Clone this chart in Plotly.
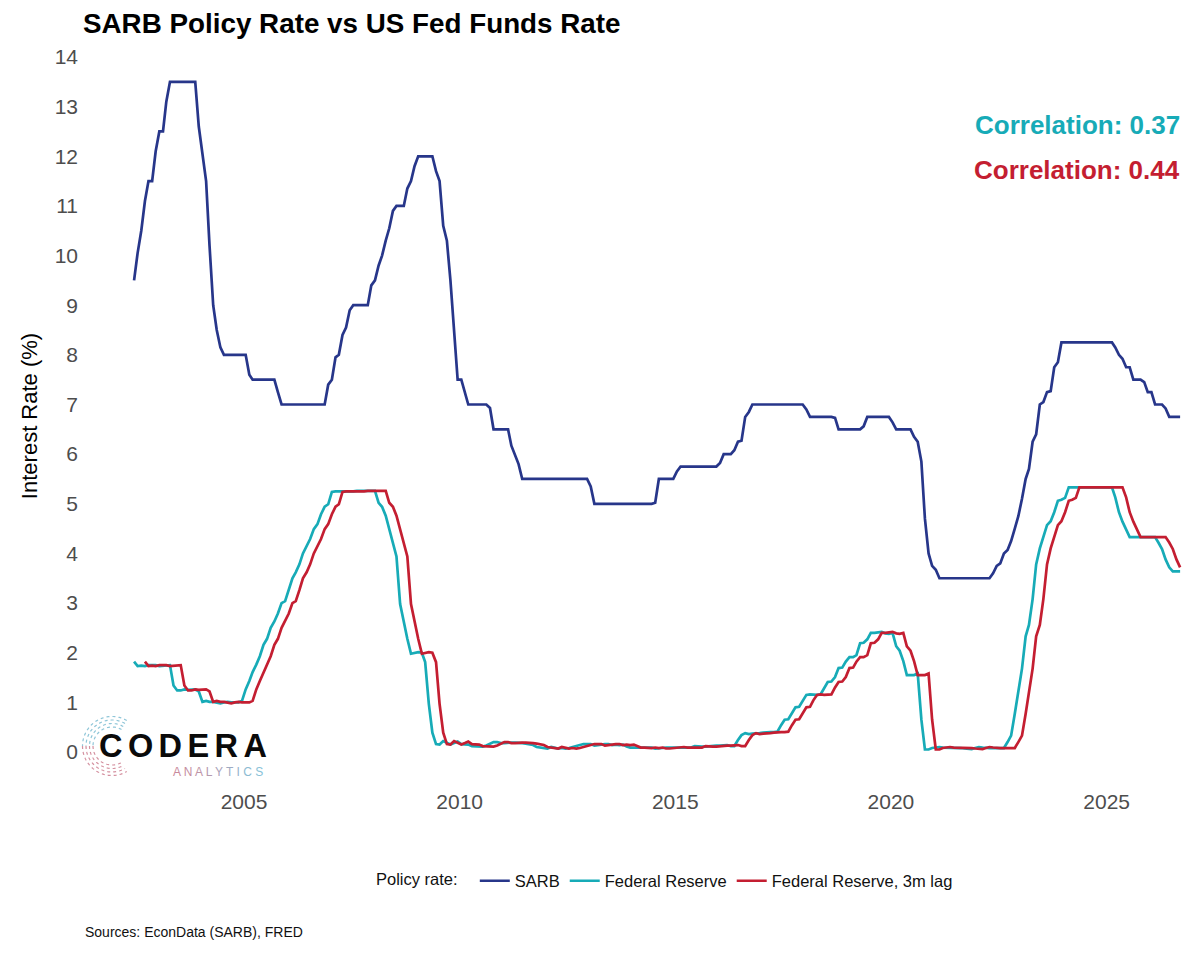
import numpy as np
import pandas as pd
import plotly.graph_objects as go

# ---------------- data (monthly, chart calendar) ----------------
n_months = 292
months = pd.date_range("2002-06-15", periods=n_months, freq=pd.DateOffset(months=1)).strftime("%Y-%m-%d").tolist()

sarb = [
    9.5,
    10.05, 10.5, 11.1, 11.5, 11.5, 12.1, 12.5, 12.5, 13.1, 13.5, 13.5, 13.5,
    13.5, 13.5, 13.5, 13.5, 13.5, 12.6, 12.0, 11.5, 10.2, 9.0, 8.5, 8.15,
    8.0, 8.0, 8.0, 8.0, 8.0, 8.0, 8.0, 7.6, 7.5, 7.5, 7.5, 7.5,
    7.5, 7.5, 7.5, 7.25, 7.0, 7.0, 7.0, 7.0, 7.0, 7.0, 7.0, 7.0,
    7.0, 7.0, 7.0, 7.0, 7.0, 7.4, 7.5, 7.95, 8.0, 8.4, 8.55, 8.9,
    9.0, 9.0, 9.0, 9.0, 9.0, 9.4, 9.5, 9.8, 10.0, 10.3, 10.55, 10.9,
    11.0, 11.0, 11.0, 11.35, 11.5, 11.8, 12.0, 12.0, 12.0, 12.0, 12.0, 11.7,
    11.5, 10.6, 10.3, 9.5, 8.5, 7.5, 7.5, 7.25, 7.0, 7.0, 7.0, 7.0,
    7.0, 7.0, 6.93, 6.5, 6.5, 6.5, 6.5, 6.5, 6.17, 6.0, 5.8, 5.5,
    5.5, 5.5, 5.5, 5.5, 5.5, 5.5, 5.5, 5.5, 5.5, 5.5, 5.5, 5.5,
    5.5, 5.5, 5.5, 5.5, 5.5, 5.5, 5.35, 5.0, 5.0, 5.0, 5.0, 5.0,
    5.0, 5.0, 5.0, 5.0, 5.0, 5.0, 5.0, 5.0, 5.0, 5.0, 5.0, 5.0,
    5.02, 5.5, 5.5, 5.5, 5.5, 5.5, 5.65, 5.75, 5.75, 5.75, 5.75, 5.75,
    5.75, 5.75, 5.75, 5.75, 5.75, 5.75, 5.82, 6.0, 6.0, 6.0, 6.08, 6.25,
    6.27, 6.75, 6.85, 7.0, 7.0, 7.0, 7.0, 7.0, 7.0, 7.0, 7.0, 7.0,
    7.0, 7.0, 7.0, 7.0, 7.0, 7.0, 6.9, 6.75, 6.75, 6.75, 6.75, 6.75,
    6.75, 6.75, 6.73, 6.5, 6.5, 6.5, 6.5, 6.5, 6.5, 6.5, 6.56, 6.75,
    6.75, 6.75, 6.75, 6.75, 6.75, 6.75, 6.64, 6.5, 6.5, 6.5, 6.5, 6.5,
    6.35, 6.25, 5.85, 4.7, 4.0, 3.75, 3.67, 3.5, 3.5, 3.5, 3.5, 3.5,
    3.5, 3.5, 3.5, 3.5, 3.5, 3.5, 3.5, 3.5, 3.5, 3.5, 3.6, 3.75,
    3.8, 4.0, 4.07, 4.25, 4.5, 4.75, 5.1, 5.5, 5.7, 6.25, 6.4, 7.0,
    7.05, 7.25, 7.27, 7.75, 7.85, 8.25, 8.25, 8.25, 8.25, 8.25, 8.25, 8.25,
    8.25, 8.25, 8.25, 8.25, 8.25, 8.25, 8.25, 8.25, 8.15, 8.0, 7.92, 7.75,
    7.75, 7.5, 7.5, 7.5, 7.45, 7.25, 7.25, 7.0, 7.0, 7.0, 6.92, 6.75,
    6.75, 6.75, 6.75,
]

fed = [
    1.82,
    1.73, 1.74, 1.73, 1.75, 1.75, 1.75, 1.73, 1.74, 1.75, 1.75, 1.34, 1.24,
    1.24, 1.26, 1.25, 1.26, 1.26, 1.22, 1.01, 1.03, 1.01, 1.01, 1.00, 0.98,
    1.00, 1.01, 1.00, 1.00, 1.00, 1.03, 1.26, 1.43, 1.61, 1.76, 1.93, 2.16,
    2.28, 2.50, 2.63, 2.79, 3.00, 3.04, 3.26, 3.50, 3.62, 3.78, 4.00, 4.16,
    4.29, 4.49, 4.59, 4.79, 4.94, 4.99, 5.24, 5.25, 5.25, 5.25, 5.25, 5.24,
    5.25, 5.26, 5.26, 5.25, 5.25, 5.25, 5.26, 5.02, 4.94, 4.76, 4.49, 4.24,
    3.94, 2.98, 2.61, 2.28, 1.98, 2.00, 2.01, 2.00, 1.81, 0.97, 0.39, 0.16,
    0.15, 0.22, 0.18, 0.15, 0.18, 0.21, 0.16, 0.16, 0.15, 0.12, 0.12, 0.12,
    0.11, 0.13, 0.16, 0.20, 0.20, 0.18, 0.18, 0.19, 0.19, 0.19, 0.19, 0.18,
    0.17, 0.16, 0.14, 0.10, 0.09, 0.09, 0.07, 0.10, 0.08, 0.07, 0.08, 0.07,
    0.08, 0.10, 0.13, 0.14, 0.16, 0.16, 0.16, 0.13, 0.14, 0.16, 0.16, 0.16,
    0.14, 0.15, 0.14, 0.15, 0.11, 0.09, 0.09, 0.08, 0.08, 0.09, 0.08, 0.09,
    0.07, 0.07, 0.08, 0.09, 0.09, 0.10, 0.09, 0.09, 0.09, 0.09, 0.09, 0.12,
    0.11, 0.11, 0.11, 0.12, 0.12, 0.13, 0.13, 0.14, 0.14, 0.12, 0.12, 0.24,
    0.34, 0.38, 0.36, 0.37, 0.37, 0.38, 0.39, 0.40, 0.40, 0.40, 0.41, 0.54,
    0.65, 0.66, 0.79, 0.90, 0.91, 1.04, 1.15, 1.16, 1.15, 1.15, 1.16, 1.30,
    1.41, 1.42, 1.51, 1.69, 1.70, 1.82, 1.91, 1.91, 1.95, 2.19, 2.20, 2.27,
    2.40, 2.40, 2.41, 2.42, 2.39, 2.38, 2.40, 2.13, 2.04, 1.83, 1.55, 1.55,
    1.55, 1.58, 0.65, 0.05, 0.05, 0.08, 0.09, 0.10, 0.09, 0.09, 0.09, 0.09,
    0.09, 0.08, 0.07, 0.07, 0.06, 0.08, 0.10, 0.09, 0.08, 0.08, 0.08, 0.08,
    0.08, 0.08, 0.20, 0.33, 0.77, 1.21, 1.68, 2.33, 2.56, 3.08, 3.78, 4.10,
    4.33, 4.57, 4.65, 4.83, 5.06, 5.08, 5.12, 5.33, 5.33, 5.33, 5.33, 5.33,
    5.33, 5.33, 5.33, 5.33, 5.33, 5.33, 5.33, 5.33, 5.13, 4.83, 4.64, 4.48,
    4.33, 4.33, 4.33, 4.33, 4.33, 4.33, 4.33, 4.33, 4.22, 4.09, 3.88, 3.72,
    3.64, 3.64, 3.64,
]

lag_months = 3
fed_lag = pd.Series(fed).shift(lag_months).tolist()
fed_lag = [None if pd.isna(v) else v for v in fed_lag]

series_names = ["SARB", "Federal Reserve", "Federal Reserve, 3m lag"]
series_colors = ["#27368A", "#17ABB7", "#C41E31"]
corr_labels = ["Correlation: 0.37", "Correlation: 0.44"]
x_tick_years = [2005, 2010, 2015, 2020, 2025]
y_ticks = list(range(0, 15))

title_text = "SARB Policy Rate vs US Fed Funds Rate"
source_text = "Sources: EconData (SARB), FRED"

# ---------------- figure ----------------
W, H = 1199, 961
ML, MR, MT, MB = 77, 0, 49, 178
PW, PH = W - ML - MR, H - MT - MB

FONT = "Liberation Sans, Arial, Helvetica, sans-serif"

fig = go.Figure()
for name, vals, col in zip(series_names, [sarb, fed, fed_lag], series_colors):
    fig.add_trace(go.Scatter(
        x=months, y=vals, mode="lines", name=name,
        line=dict(color=col, width=2.7), connectgaps=False,
    ))

def px_x(p):
    return (p - ML) / PW

def px_y(p):
    return (H - MB - p) / PH

# correlation labels
for txt, col, ypx in zip(corr_labels, series_colors[1:], [125, 170]):
    fig.add_annotation(
        xref="paper", yref="paper", x=px_x(1182), y=px_y(ypx),
        xanchor="right", yanchor="middle", showarrow=False,
        text=f"<b>{txt}</b>", font=dict(family=FONT, size=26, color=col),
    )

# source note
fig.add_annotation(
    xref="paper", yref="paper", x=px_x(83), y=px_y(932),
    xanchor="left", yanchor="middle", showarrow=False,
    text=source_text, font=dict(family=FONT, size=14, color="#111111"),
)

# logo (text + decorative ring)
fig.add_annotation(
    xref="paper", yref="paper", x=px_x(97), y=px_y(766),
    xanchor="left", yanchor="bottom", showarrow=False,
    text="<b>C\u2006O\u2006D\u2006E\u2006R\u2006A</b>",
    font=dict(family="Liberation Sans, Arial, sans-serif", size=32.5, color="#0A0A0A"),
)
analytics_cols = ["#C98A9B", "#C58E9F", "#BE94A6", "#B59AAE", "#AAA2B8", "#9EAAC2", "#93B3CB", "#8CBBD2", "#88C2D8"]
analytics = " ".join(f"<span style='color:{c}'>{ch}</span>" for ch, c in zip("ANALYTICS", analytics_cols))
fig.add_annotation(
    xref="paper", yref="paper", x=px_x(171), y=px_y(772),
    xanchor="left", yanchor="middle", showarrow=False,
    text=analytics, font=dict(family="Liberation Sans, Arial, sans-serif", size=12, color="#B9A0B0"),
)
cx, cy = 112, 746
for r in [19, 22.5, 26, 29.5]:
    for a0, a1, col in [(60, 180, "#8FC6D8"), (180, 300, "#D4909F")]:
        th = np.radians(np.linspace(a0, a1, 40))
        xs = [px_x(cx + r * np.cos(t)) for t in th]
        ys = [px_y(cy - r * np.sin(t)) for t in th]
        path = "M " + " L ".join(f"{a:.5f},{b:.5f}" for a, b in zip(xs, ys))
        fig.add_shape(type="path", xref="paper", yref="paper", path=path,
                      line=dict(color=col, width=1.2, dash="dot"), layer="below")

# axis ranges from pixel geometry
y_per_px = 1 / 49.64
y_lo = -(H - MB - 752) * y_per_px
y_hi = 14 + (57 - MT) * y_per_px

def year_to_date(yf):
    y = int(np.floor(yf))
    start = pd.Timestamp(f"{y}-01-01")
    end = pd.Timestamp(f"{y + 1}-01-01")
    return (start + (end - start) * (yf - y)).strftime("%Y-%m-%d %H:%M:%S")

px_per_year = 43.13
x_lo = 2005 - (244 - ML) / px_per_year
x_hi = 2005 + (W - MR - 244) / px_per_year

fig.update_layout(
    width=W, height=H,
    margin=dict(l=ML, r=MR, t=MT, b=MB, autoexpand=False),
    paper_bgcolor="white", plot_bgcolor="white",
    font=dict(family=FONT, color="#111111"),
    title=dict(
        text=f"<b>{title_text}</b>", xref="container", yref="container",
        x=83 / W, y=1 - 23 / H, xanchor="left", yanchor="middle",
        font=dict(family=FONT, size=27.8, color="#000000"),
    ),
    xaxis=dict(
        type="date", range=[year_to_date(x_lo), year_to_date(x_hi)],
        showgrid=False, zeroline=False, showline=False, ticks="",
        tickvals=[f"{y}-01-01" for y in x_tick_years],
        ticktext=[str(y) for y in x_tick_years],
        tickfont=dict(family=FONT, size=21, color="#4D4D4D"),
        ticklabelstandoff=4,
    ),
    yaxis=dict(
        range=[y_lo, y_hi], showgrid=False, zeroline=False, showline=False, ticks="",
        tickvals=y_ticks, ticktext=[str(v) for v in y_ticks],
        tickfont=dict(family=FONT, size=21, color="#4D4D4D"),
        ticklabelstandoff=-2,
        title=dict(text="Interest Rate (%)", font=dict(family=FONT, size=22, color="#000000"), standoff=10),
    ),
    legend=dict(
        orientation="h", xref="paper", yref="paper",
        x=px_x(666), y=px_y(881), xanchor="center", yanchor="middle",
        title=dict(text="Policy rate:  ", font=dict(family=FONT, size=16.5, color="#111111")),
        font=dict(family=FONT, size=16.5, color="#111111"),
        bgcolor="rgba(0,0,0,0)", itemwidth=30, tracegroupgap=0,
    ),
    showlegend=True,
)

fig.write_html("out.html")
